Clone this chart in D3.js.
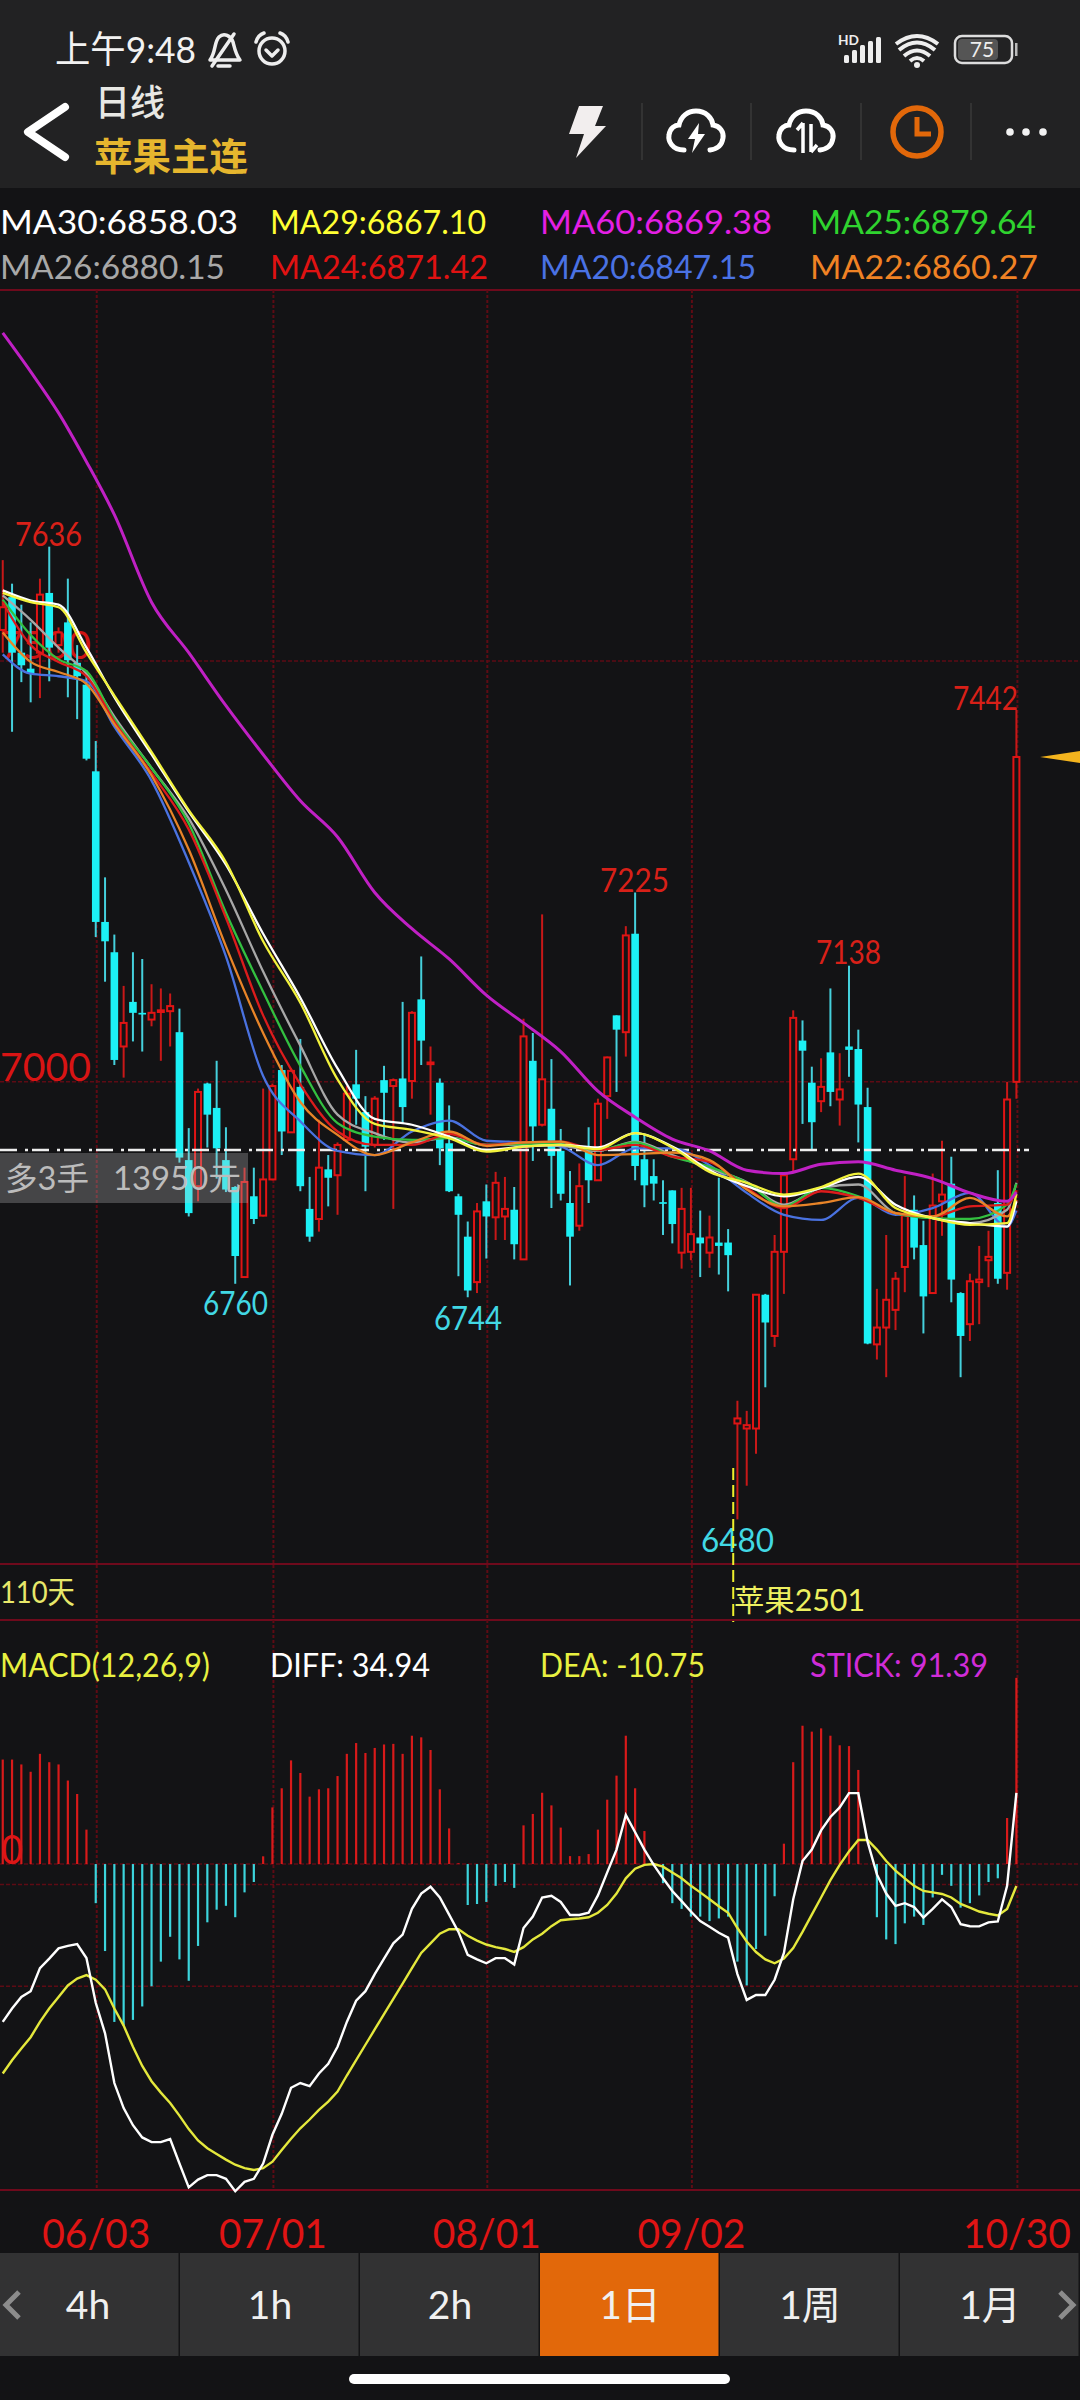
<!DOCTYPE html>
<html lang="zh"><head><meta charset="utf-8">
<script src="https://cdn.jsdelivr.net/npm/d3@7/dist/d3.min.js"></script>
<style>html,body{margin:0;padding:0;background:#131315}svg{display:block}text{font-family:Lato,"Noto Sans CJK SC",sans-serif}</style>
</head><body><div id="chart"></div>
<script>
// ---------- candles (daily, oldest to newest) ----------
const opens=[7537,7576,7510,7491,7510,7581,7519,7546,7498,7472,
7369,7190,7154,7042,7095,7082,7074,7083,7084,7059,
6907,6876,6998,6969,6907,6875,6768,6864,6841,6884,
7014,6940,6994,6849,6837,6896,6889,6931,6997,6964,
6925,7002,6995,7004,7001,7098,7021,6999,6927,6864,
6816,6762,6858,6839,6840,6848,6789,7025,
6949,6968,6918,6856,6829,6917,6883,6983,7079,7059,
7176,6908,6888,6857,6871,6797,6798,6815,6797,6809,
6809,6594,6588,6588,6747,6698,6798,6908,7049,6999,
6977,7035,6979,7042,7039,6970,6688,6708,6729,6780,
6848,6806,6749,6858,6879,6749,6712,6762,6788,6856,
6773,7000];
const closes=[7564,7510,7495,7485,7579,7516,7534,7501,7482,7384,
7190,7167,7026,7070,7082,7080,7082,7085,7090,6910,
6844,6988,6961,6921,6872,6793,6881,6837,6884,6995,
6941,7013,6876,6816,6898,6886,6925,6986,6980,6923,
6980,6987,7002,6970,7082,7049,7023,6921,6870,6842,
6752,6846,6840,6880,6849,6807,7054,6947,
7003,6912,6867,6816,6876,6883,6974,7029,7062,7174,
6900,6877,6879,6855,6831,6849,6819,6808,6815,6805,
6794,6600,6592,6747,6714,6798,6889,7076,7037,6952,
6994,6988,6991,7038,6973,6689,6708,6741,6766,6841,
6803,6745,6853,6866,6765,6698,6763,6765,6792,6766,
6979,7386];
const highs=[7620,7592,7567,7546,7598,7636,7540,7598,7519,7489,
7405,7243,7175,7114,7154,7146,7116,7111,7105,7087,
6945,6992,6999,7025,6946,6876,6898,6898,6992,6998,
7020,7016,7051,6887,6955,6913,6928,6995,7038,6983,
6983,7019,7004,7095,7084,7149,7042,7004,6972,6867,
6834,6856,6878,6893,6887,6875,7075,7058,
7199,7027,6944,6894,6903,6946,6980,7030,7079,7185,
7225,6938,6908,6883,6871,6874,6874,6847,6841,6886,
6825,6621,6609,6747,6748,6818,6892,7085,7073,7018,
7028,7111,7034,7138,7062,6993,6754,6818,6774,6888,
6865,6835,6891,6930,6911,6750,6772,6805,6823,6895,
7000,7442];
const lows=[7510,7416,7475,7451,7456,7476,7510,7457,7431,7382,
7172,7119,7020,7005,7048,7036,7066,7025,7042,6904,
6840,6858,6922,6885,6869,6760,6767,6831,6840,6883,
6913,6940,6870,6810,6822,6852,6842,6928,6949,6870,
6922,6931,6849,6951,6980,7020,6961,6901,6869,6769,
6744,6749,6790,6812,6812,6789,6789,6906,
6947,6850,6859,6758,6823,6856,6883,6956,6988,7030,
6883,6851,6859,6818,6808,6778,6788,6768,6779,6771,
6751,6480,6520,6558,6637,6685,6748,6892,6950,6920,
6964,6971,6948,7006,6928,6688,6670,6649,6705,6750,
6789,6701,6748,6817,6738,6649,6692,6712,6756,6760,
6753,6980];

// ---------- moving averages, read at these candle numbers ----------
const maIdx=[0,3,6,9,12,16,20,24,28,32,36,40,44,48,52,56,60,64,68,72,76,80,84,88,92,96,100,104,108,109];
const ma60=[7890,7844,7795,7737,7674,7570,7510,7447,7389,7334,7291,7225,7182,7146,7103,7070,7036,6989,6958,6932,6918,6895,6891,6902,6905,6895,6885,6868,6858,6869];
const ma20=[7508,7485,7482,7476,7422,7358,7261,7149,7007,6953,6918,6913,6941,6954,6930,6928,6923,6901,6921,6921,6901,6868,6842,6836,6862,6842,6850,6868,6828,6847];
const ma22=[7534,7499,7487,7473,7425,7364,7276,7161,7058,6976,6937,6913,6928,6941,6924,6928,6929,6913,6914,6916,6907,6872,6852,6856,6863,6844,6840,6862,6840,6860];
const ma24=[7570,7519,7499,7482,7428,7367,7300,7195,7079,6997,6941,6925,6925,6938,6925,6928,6929,6919,6925,6911,6905,6874,6850,6870,6862,6844,6840,6852,6854,6871];
const ma25=[7573,7531,7502,7488,7431,7373,7307,7201,7107,7019,6951,6935,6931,6933,6925,6926,6926,6919,6928,6911,6899,6880,6852,6874,6864,6844,6838,6837,6854,6879];
const ma26=[7578,7549,7516,7485,7434,7373,7313,7228,7131,7043,6961,6939,6928,6934,6925,6925,6924,6918,6929,6913,6897,6881,6854,6874,6878,6844,6838,6832,6848,6880];
const ma30=[7584,7572,7567,7516,7457,7389,7321,7258,7176,7100,7016,6956,6949,6935,6919,6923,6925,6922,6939,6923,6895,6876,6864,6874,6887,6854,6838,6832,6828,6858];
const ma29=[7581,7570,7564,7510,7459,7392,7323,7261,7167,7094,7003,6950,6943,6933,6917,6923,6925,6920,6939,6922,6893,6880,6866,6875,6891,6850,6838,6830,6832,6867];

// ---------- MACD ----------
const stick=[51.3,51.3,48.9,45.3,54.1,50,48.9,41,34.4,16.9,
-19.2,-42.7,-77.5,-79.3,-76.5,-69.9,-60,-47.9,-35.7,-46.8,
-57.3,-40.2,-28.6,-22.4,-20.5,-26.1,-13.9,-8.8,3.8,27.8,
37.2,50.9,44.7,33.1,36.7,37.2,43.2,54.1,59.4,54.5,
57,58.7,59,54.1,63,62.2,56,36.7,17.5,0.4,
-20.1,-19.6,-18.6,-10.7,-8.8,-11.7,19,24.6,
35,28.8,17.9,3.9,3.9,4.9,16.9,31.6,43.4,63,
37.2,16.2,0.6,-9.4,-19.2,-22,-25.8,-25.8,-28,-26.7,
-25.8,-47.9,-59.6,-41.7,-35.2,-15.8,10,50,67.9,65,
66.6,63,58.3,57.9,46.2,0,-26.1,-37,-39.3,-29.1,
-25.8,-29.9,-16.4,-5.3,-10.7,-21.4,-19.2,-15.4,-8.8,-7,
22.6,91.39];
const diff=[-77.5,-70.9,-65.2,-62.4,-51.1,-46.4,-41.4,-40.2,-39.3,-46.1,
-68.1,-83.1,-107.5,-119.8,-128.2,-134.2,-136.5,-136.5,-135,-147,
-158.7,-154.9,-152.7,-152.7,-154.5,-160.6,-156,-154.5,-147,-132.9,
-122.6,-109.8,-107.5,-109,-102.8,-98.1,-89.7,-77.5,-67.1,-62.4,
-54,-46.4,-38.9,-34.6,-22,-14.5,-11.1,-16.4,-24.8,-33.3,
-44.6,-46.8,-48.7,-46.2,-46.2,-49.3,-31.4,-25.8,
-16.4,-15.6,-18.6,-25,-25,-23.9,-15.4,-4.1,7.1,24.1,
15.6,7.1,-0.4,-7,-13.2,-18.2,-23.3,-28,-30.8,-33.7,
-36.1,-54,-66.7,-64.3,-64.3,-56.8,-43.6,-17.3,1.5,7.1,
16.5,23.1,27.8,34.8,34.8,10.9,-5.1,-14.5,-20.5,-19.2,
-21.1,-26.3,-22,-17.3,-21.1,-29.5,-30.5,-30.6,-28.6,-28.2,
-10.7,34.94];
const dea=[-102.8,-96.3,-90.6,-85,-77.5,-70.9,-65.2,-59.6,-56.2,-54.5,
-56.8,-61.5,-70.9,-79.3,-89.7,-99.1,-106.6,-112.2,-117.3,-123.5,
-130.1,-135.7,-139.5,-142.3,-145.1,-147.6,-149.3,-150.2,-149.3,-146.1,
-140.4,-134.8,-129.7,-125.4,-120.7,-116.6,-111.7,-103.8,-96.3,-88.7,
-81.2,-73.7,-66.2,-58.7,-51.1,-43.6,-38.9,-34.2,-32,-32,
-35.2,-37.6,-39.5,-40.8,-41.7,-43.1,-40.8,-37,
-34.2,-30.5,-27.6,-27.1,-26.7,-26.1,-23.9,-20.1,-14.5,-7,
-2.3,-0.4,0,-1.3,-4.1,-7,-10.7,-13.9,-17.3,-20.7,
-23.9,-31.4,-38,-43.2,-46.8,-48.7,-46.4,-41.2,-33.3,-24.8,
-16.4,-7.9,-0.4,6.2,11.8,11.8,7.1,1.5,-3.2,-7,
-10.7,-13.2,-13.9,-14.7,-16.4,-19.6,-21.4,-23.3,-24.4,-25.2,
-22,-10.75];

// ---------- labels ----------
const dateTickIdx=[10,29,52,74,109];
const dateTickLabels=["06/03","07/01","08/01","09/02","10/30"];
const priceGrid=[7500,7000];
const macdGrid=[0,-10,-60];
const lastPrice=6919, lastClose=7386;
const tabLabels=["4h","1h","2h","1日","1周","1月"];

const RED="#e01414", CYAN="#1cf0f5", CYANW="#45d0dc", GRID="#5e0b14", BG="#131315", BAR="#222223";

const svg=d3.select("#chart").append("svg").attr("width",1080).attr("height",2400).attr("viewBox","0 0 1080 2400");
const x=d3.scaleLinear().domain([0,109]).range([2.75,1016.4]);
const py=d3.scaleLinear().domain([6427,7941]).range([1564,290]);
const my=d3.scaleLinear().domain([-160,119.8]).range([2190,1620]);

function T(g,s,xp,yp,size,fill,w,anchor,weight){
  const t=g.append("text").attr("x",xp).attr("y",yp).attr("font-size",size).attr("fill",fill).text(s);
  if(anchor)t.attr("text-anchor",anchor);
  if(weight)t.attr("font-weight",weight);
  if(w)t.attr("textLength",w).attr("lengthAdjust","spacingAndGlyphs");
  return t;
}
svg.append("rect").attr("width",1080).attr("height",2400).attr("fill",BG);

// ---------- header ----------
const head=svg.append("g");
head.append("rect").attr("width",1080).attr("height",188).attr("fill",BAR);
T(head,"上午9:48",55,63,37,"#f2f2f2",141);
const ic=head.append("g").attr("fill","none").attr("stroke","#eee").attr("stroke-width",3.5).attr("stroke-linecap","round").attr("stroke-linejoin","round");
ic.append("path").attr("d","M210 60 C216 52 214 42 219 37 C224 32 231 36 233 42 C235 50 236 55 240 60 Z");
ic.append("path").attr("d","M234 34 L212 66");
ic.append("path").attr("d","M218 66 h12");
ic.append("circle").attr("cx",272).attr("cy",51).attr("r",13);
ic.append("path").attr("d","M266 50 l6 6 l6 -6");
ic.append("path").attr("d","M256 42 q2 -7 8 -9 M288 42 q-2 -7 -8 -9");
T(head,"HD",838,45,14,"#eee",21,null,700);
[[844,55],[852,50],[860,45],[868,41],[876,37]].forEach(b=>head.append("rect").attr("x",b[0]).attr("y",b[1]).attr("width",5).attr("height",63-b[1]).attr("rx",1.5).attr("fill","#eee"));
const wf=head.append("g").attr("fill","none").attr("stroke","#eee").attr("stroke-width",4);
wf.append("path").attr("d","M899 50 q18 -15 36 0");
wf.append("path").attr("d","M904 56 q13 -11 26 0");
wf.append("path").attr("d","M910 61 q7 -6 14 0");
wf.append("path").attr("d","M896 44 q21 -16 42 0");
head.append("circle").attr("cx",917).attr("cy",65).attr("r",3).attr("fill","#eee");
head.append("rect").attr("x",955).attr("y",36).attr("width",57).attr("height",27).attr("rx",7).attr("fill","none").attr("stroke","#ddd").attr("stroke-width",2.5);
head.append("rect").attr("x",958).attr("y",39).attr("width",40).attr("height",21).attr("rx",4).attr("fill","#555");
head.append("rect").attr("x",1015).attr("y",43).attr("width",2.5).attr("height",13).attr("fill","#bbb");
T(head,"75",982,57,21,"#eee",null,"middle");
head.append("path").attr("d","M65 107 L28 132 L65 157").attr("fill","none").attr("stroke","#fff").attr("stroke-width",8).attr("stroke-linecap","round").attr("stroke-linejoin","round");
T(head,"日线",95,116,36,"#e8e8e4",70,null,500);
T(head,"苹果主连",94,170,38,"#e6b62e",154,null,700);
head.append("path").attr("d","M579 106 L603 106 L595 126 L606 126 L576 158 L584 134 L569 134 Z").attr("fill","#f2eeee");
[642,751,861,971].forEach(v=>head.append("line").attr("x1",v).attr("x2",v).attr("y1",103).attr("y2",160).attr("stroke","#3a3a3a").attr("stroke-width",1.5));
[696,806].forEach((c,k)=>{
  const g=head.append("g").attr("transform",`translate(${c},133)`);
  g.append("path").attr("d","M-12 17 C-24 17 -28 8 -27 2 C-26 -5 -21 -8 -17 -8 C-15 -17 -8 -22 0 -22 C10 -22 16 -15 17 -8 C24 -7 28 -1 27 5 C26 12 22 16 14 17").attr("fill","none").attr("stroke","#fff").attr("stroke-width",5).attr("stroke-linecap","round");
  if(k===0)g.append("path").attr("d","M3 -10 L-8 6 L-1 6 L-4 20 L9 1 L2 1 Z").attr("fill","#fff");
  else g.append("path").attr("d","M-3 20 L-3 -10 M-3 -10 L-9 -3 M5 -9 L5 19 M5 19 L11 12").attr("fill","none").attr("stroke","#fff").attr("stroke-width",3.5);
});
head.append("circle").attr("cx",917).attr("cy",132).attr("r",24).attr("fill","none").attr("stroke","#e2680a").attr("stroke-width",5.5);
head.append("path").attr("d","M917 117 V134 H931").attr("fill","none").attr("stroke","#e2680a").attr("stroke-width",5);
[1010,1026,1043].forEach(v=>head.append("circle").attr("cx",v).attr("cy",132).attr("r",3.8).attr("fill","#f2f2f2"));

// ---------- MA legend ----------
const legendRows=[
 [["MA30:6858.03",0,238,"#ffffff"],["MA29:6867.10",270,216,"#ffff33"],["MA60:6869.38",540,232,"#e41fe4"],["MA25:6879.64",810,226,"#2fd32f"]],
 [["MA26:6880.15",0,225,"#a8a8a8"],["MA24:6871.42",270,218,"#e01212"],["MA20:6847.15",540,216,"#4a72e4"],["MA22:6860.27",810,228,"#f08224"]]];
legendRows.forEach((row,r)=>row.forEach(d=>T(svg,d[0],d[1],r?279:234,33,d[3],d[2])));

// ---------- grids ----------
const grid=svg.append("g").attr("stroke",GRID).attr("fill","none");
[290,1564,1620].forEach(v=>grid.append("line").attr("x1",0).attr("x2",1080).attr("y1",v).attr("y2",v).attr("stroke-width",2).attr("stroke","#6e0a1c"));
grid.append("line").attr("x1",0).attr("x2",1080).attr("y1",my(-160)).attr("y2",my(-160)).attr("stroke-width",2).attr("stroke","#6e0a1c");
grid.selectAll("line.p").data(priceGrid).join("line").attr("class","p").attr("x1",0).attr("x2",1080).attr("y1",d=>py(d)).attr("y2",d=>py(d)).attr("stroke-width",1.5).attr("stroke-dasharray","4 2");
grid.selectAll("line.m").data(macdGrid).join("line").attr("class","m").attr("x1",0).attr("x2",1080).attr("y1",d=>my(d)).attr("y2",d=>my(d)).attr("stroke-width",1.5).attr("stroke-dasharray","4 2");
grid.selectAll("line.v").data(dateTickIdx).join("line").attr("class","v").attr("x1",d=>x(d)+1).attr("x2",d=>x(d)+1).attr("y1",290).attr("y2",my(-160)).attr("stroke-width",2).attr("stroke-dasharray","3 2");

// ---------- price axis labels under the candles ----------
T(svg,"7500",0,659,39,"#d01414",91);
T(svg,"7000",0,1081,39,"#d81414",91);

// ---------- candles ----------
const idx=d3.range(opens.length);
const up=i=>closes[i]>=opens[i];
const candles=svg.append("g");
candles.selectAll("line").data(idx).join("line")
  .attr("x1",i=>x(i)).attr("x2",i=>x(i))
  .attr("y1",i=>py(highs[i])).attr("y2",i=>py(lows[i]))
  .attr("stroke",i=>up(i)?"#c81818":CYANW).attr("stroke-width",2);
candles.selectAll("rect").data(idx).join("rect")
  .attr("x",i=>x(i)-(up(i)?3:3.8)).attr("width",i=>up(i)?6:7.6)
  .attr("y",i=>py(Math.max(opens[i],closes[i])))
  .attr("height",i=>Math.max(1.5,Math.abs(py(opens[i])-py(closes[i]))))
  .attr("fill",i=>up(i)?BG:CYAN)
  .attr("stroke",i=>up(i)?RED:"none").attr("stroke-width",2);

// ---------- last price line ----------
svg.append("line").attr("x1",0).attr("x2",1029).attr("y1",py(lastPrice)).attr("y2",py(lastPrice))
  .attr("stroke","#eeeeee").attr("stroke-width",2.5).attr("stroke-dasharray","17 8 3 4");

// ---------- moving average lines ----------
const maLine=a=>d3.line().x((d,k)=>x(maIdx[k])).y(d=>py(d)).curve(d3.curveMonotoneX)(a);
[[ma20,"#4a72e0"],[ma26,"#a8a8a8"],[ma25,"#33c040"],[ma24,"#dc1c1c"],[ma22,"#e88428"],[ma30,"#ffffff"],[ma29,"#f2f23c"]]
 .forEach(s=>svg.append("path").attr("d",maLine(s[0])).attr("fill","none").attr("stroke",s[1]).attr("stroke-width",2.3));
svg.append("path").attr("d",maLine(ma60)).attr("fill","none").attr("stroke","#c020c4").attr("stroke-width",3);

// ---------- high / low labels ----------
[["7636",15,546,67,"#d82018"],["7225",600,892,69,"#d82018"],["7138",816,964,65,"#d82018"],["7442",953,710,65,"#d82018"],
 ["6760",203,1315,65,"#42d8e4"],["6744",434,1330,68,"#42d8e4"],["6480",701,1552,73,"#42d8e4"]]
 .forEach(d=>T(svg,d[0],d[1],d[2],32,d[4],d[3]));

// ---------- position box ----------
svg.append("rect").attr("x",0).attr("y",1153).attr("width",248).attr("height",50).attr("fill","#c8c8c8").attr("fill-opacity",0.28);
T(svg,"多3手",5,1190,32,"#bcbcbc",84);
T(svg,"13950元",113,1190,32,"#bcbcbc",128);

// ---------- last price arrow ----------
svg.append("path").attr("d",`M1040 ${py(lastClose)} L1080 ${py(lastClose)-6} L1080 ${py(lastClose)+6} Z`).attr("fill","#f4b41e");

// ---------- contract marker ----------
svg.append("line").attr("x1",x(78.55)).attr("x2",x(78.55)).attr("y1",1468).attr("y2",1622).attr("stroke","#eef02c").attr("stroke-width",2).attr("stroke-dasharray","12 5");
T(svg,"110天",0,1603,31,"#e8e86a",75);
T(svg,"苹果2501",734,1611,30,"#eef060",131);

// ---------- MACD ----------
[["MACD(12,26,9)",0,210,"#e8f040"],["DIFF: 34.94",270,160,"#ffffff"],["DEA: -10.75",540,165,"#e8f040"],["STICK: 91.39",810,178,"#d02cd8"]]
 .forEach(d=>T(svg,d[0],d[1],1677,32,d[3],d[2]));
T(svg,"0",1,1864,41,RED,22);
svg.append("g").selectAll("line").data(stick).join("line")
  .attr("x1",(d,i)=>x(i)).attr("x2",(d,i)=>x(i))
  .attr("y1",my(0)).attr("y2",d=>my(d))
  .attr("stroke",d=>d>=0?"#d81a1a":"#3cd4dc").attr("stroke-width",2.2);
const mLine=d3.line().x((d,i)=>x(i)).y(d=>my(d));
svg.append("path").attr("d",mLine(dea)).attr("fill","none").attr("stroke","#e4e83c").attr("stroke-width",2.4);
svg.append("path").attr("d",mLine(diff)).attr("fill","none").attr("stroke","#ffffff").attr("stroke-width",2.4);

// ---------- date axis ----------
const ax=d3.axisBottom(x).tickValues(dateTickIdx).tickFormat((d,i)=>dateTickLabels[i]).tickSize(0);
const axG=svg.append("g").attr("transform","translate(0,2248)").call(ax);
axG.select(".domain").remove();
axG.selectAll("text").attr("y",0).attr("dy",0).attr("font-size",40).attr("fill",RED).attr("text-anchor","middle")
  .attr("font-family","Lato").attr("textLength",108).attr("lengthAdjust","spacingAndGlyphs");

// ---------- tabs ----------
const tabs=svg.append("g");
const tabX=d3.scaleBand().domain(tabLabels).range([0,1080]);
tabs.selectAll("rect").data(tabLabels).join("rect")
  .attr("x",d=>tabX(d)).attr("y",2253).attr("width",tabX.bandwidth()-1.5).attr("height",103)
  .attr("fill",d=>d==="1日"?"#e2680a":"#323233");
tabs.selectAll("text").data(tabLabels).join("text")
  .attr("x",d=>tabX(d)+tabX.bandwidth()/2-(d==="4h"?2:0)).attr("y",2319).attr("text-anchor","middle")
  .attr("font-size",39).attr("fill","#f0f0f0").text(d=>d);
tabs.append("path").attr("d","M19 2292 L6 2305 L19 2318").attr("fill","none").attr("stroke","#8c8c8c").attr("stroke-width",5);
tabs.append("path").attr("d","M1060 2292 L1073 2305 L1060 2318").attr("fill","none").attr("stroke","#8c8c8c").attr("stroke-width",5);
svg.append("rect").attr("x",349).attr("y",2374).attr("width",381).attr("height",10).attr("rx",5).attr("fill","#fff");
</script></body></html>
